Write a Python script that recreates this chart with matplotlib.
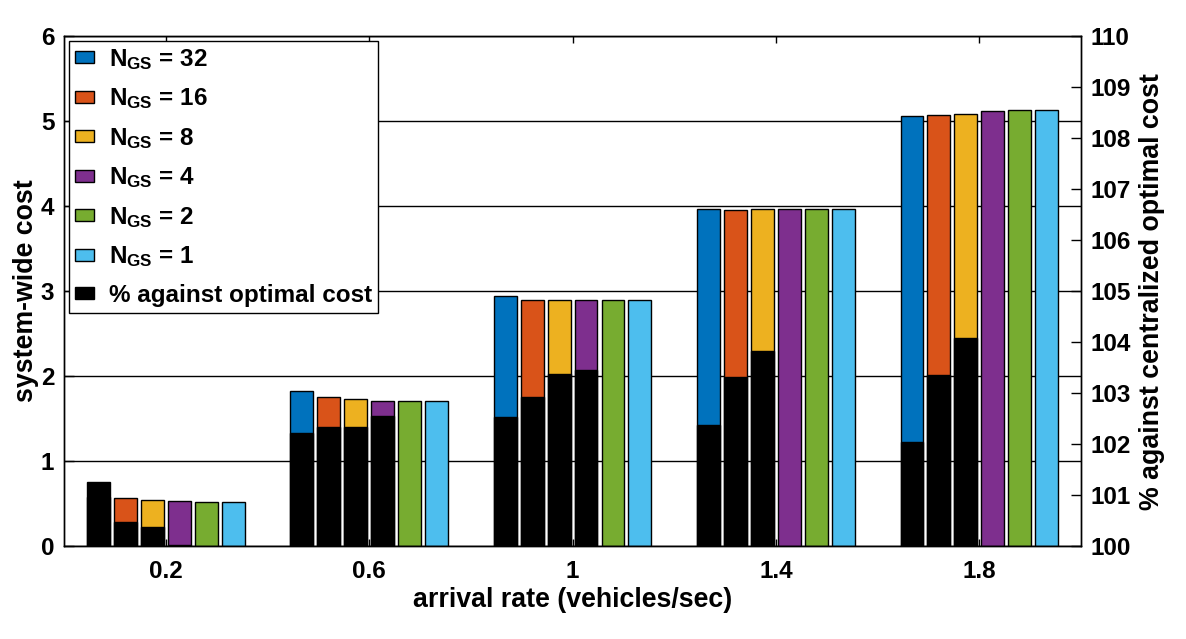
import numpy as np
import matplotlib
matplotlib.use('Agg')
import matplotlib.pyplot as plt
from matplotlib.patches import Patch

plt.rcParams['font.family'] = ['Liberation Sans', 'DejaVu Sans']
plt.rcParams['font.weight'] = 'bold'
plt.rcParams['mathtext.fontset'] = 'custom'
plt.rcParams['mathtext.rm'] = 'Liberation Sans:bold'
plt.rcParams['mathtext.bf'] = 'Liberation Sans:bold'
plt.rcParams['mathtext.it'] = 'Liberation Sans:bold'

# arrival rates (vehicles/sec)
rates = [0.2, 0.6, 1.0, 1.4, 1.8]
rate_labels = ['0.2', '0.6', '1', '1.4', '1.8']

# number of groups of stations
n_gs = [32, 16, 8, 4, 2, 1]

# system-wide cost, one row per N_GS
cost_32 = [0.58, 1.82, 2.94, 3.96, 5.06]
cost_16 = [0.56, 1.75, 2.90, 3.95, 5.07]
cost_8 = [0.54, 1.73, 2.90, 3.96, 5.08]
cost_4 = [0.525, 1.71, 2.90, 3.97, 5.12]
cost_2 = [0.515, 1.71, 2.90, 3.97, 5.13]
cost_1 = [0.515, 1.71, 2.90, 3.97, 5.13]

# % against centralized optimal cost
pct_32 = [101.26, 102.22, 102.53, 102.38, 102.04]
pct_16 = [100.47, 102.34, 102.92, 103.32, 103.36]
pct_8 = [100.37, 102.34, 103.38, 103.83, 104.08]
pct_4 = [100.02, 102.55, 103.46, 100.0, 100.0]
pct_2 = [100.0, 100.0, 100.0, 100.0, 100.0]
pct_1 = [100.0, 100.0, 100.0, 100.0, 100.0]

costs = [cost_32, cost_16, cost_8, cost_4, cost_2, cost_1]
pcts = [pct_32, pct_16, pct_8, pct_4, pct_2, pct_1]
colors = ['#0072BD', '#D95319', '#EDB120', '#7E2F8E', '#77AC30', '#4DBEEE']

TICK_FS = 17.5
LABEL_FS = 19.3

fig = plt.figure(figsize=(11.86, 6.39), dpi=100)
ax1 = fig.add_axes([0.054, 0.1455, 0.8575, 0.798])
ax2 = ax1.twinx()

x = np.array(rates)
step = 0.053
width = 0.045

for i in range(len(n_gs)):
    off = (i - 2.5) * step
    ax1.bar(x + off, costs[i], width=width, color=colors[i],
            edgecolor='black', linewidth=1.0, zorder=3)
    p = np.array(pcts[i])
    ax2.bar(x + off, p - 100, bottom=100, width=width, color='black',
            edgecolor='black', linewidth=1.0, zorder=3)

ax1.set_xlim(0, 2)
ax1.set_ylim(0, 6)
ax2.set_ylim(100, 110)
ax1.set_yticks(range(0, 7))
ax2.set_yticks(range(100, 111))
ax1.set_xticks(rates)
ax1.set_xticklabels(rate_labels)

ax1.yaxis.grid(True, color='black', linewidth=1.0)
ax1.set_axisbelow(True)

for ax in (ax1, ax2):
    ax.tick_params(direction='in', length=7, width=1, labelsize=TICK_FS, pad=7)
    for s in ax.spines.values():
        s.set_linewidth(1.0)
ax1.tick_params(axis='x', top=True, length=5, pad=10)

ax1.set_xlabel('arrival rate (vehicles/sec)', fontsize=LABEL_FS, fontweight='bold', labelpad=3)
ax1.set_ylabel('system-wide cost', fontsize=LABEL_FS, fontweight='bold', labelpad=1)
ax2.set_ylabel('% against centralized optimal cost', fontsize=LABEL_FS, fontweight='bold', labelpad=6)

handles = [Patch(facecolor=c, edgecolor='black', linewidth=1.0) for c in colors]
labels = [r'$\mathregular{N_{GS}}$ = %d' % n for n in n_gs]
handles.append(Patch(facecolor='black', edgecolor='black'))
labels.append('% against optimal cost')
leg = ax2.legend(handles, labels, loc='upper left', fontsize=17.5, frameon=True,
                 fancybox=False, edgecolor='black', framealpha=1,
                 handlelength=0.8, handleheight=0.4, handletextpad=0.6,
                 labelspacing=0.6, borderpad=0.25, borderaxespad=0.2)
leg.get_frame().set_linewidth(1.0)

fig.savefig('out.png', dpi=100)
